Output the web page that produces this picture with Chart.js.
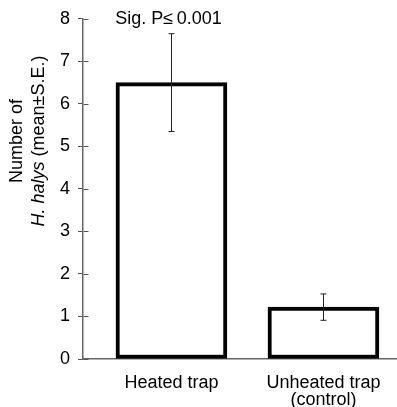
<!DOCTYPE html>
<html>
<head>
<meta charset="utf-8">
<script src="https://cdn.jsdelivr.net/npm/chart.js@4.4.1/dist/chart.umd.min.js"></script>
<style>
  html, body { margin: 0; padding: 0; background: #fff; }
  #wrap { width: 397px; height: 407px; }
</style>
</head>
<body>
<div id="wrap"><canvas id="chart"></canvas></div>
<script>
// data
const categories = [['Heated trap'], ['Unheated trap', '(control)']];
const means = [6.5, 1.22];
const seValues = [1.15, 0.31];
const yTicks = [0, 1, 2, 3, 4, 5, 6, 7, 8];
const sigLabel = 'Sig. P\u2264\u20090.001';

const FONT = 'Arial, "Liberation Sans", sans-serif';

// error bars + significance label + y title
const extras = {
  id: 'extras',
  afterDatasetsDraw(chart) {
    const { ctx, scales: { x, y } } = chart;
    ctx.save();
    ctx.strokeStyle = '#222';
    ctx.lineWidth = 1;
    means.forEach((m, i) => {
      const px = Math.round(x.getPixelForValue(i)) + 0.5;
      const top = y.getPixelForValue(m + seValues[i]);
      const bot = y.getPixelForValue(m - seValues[i]);
      ctx.beginPath();
      ctx.moveTo(px, top); ctx.lineTo(px, bot);
      ctx.moveTo(px - 3, top); ctx.lineTo(px + 3, top);
      ctx.moveTo(px - 3, bot); ctx.lineTo(px + 3, bot);
      ctx.stroke();
    });

    // inward tick marks on the y axis
    ctx.strokeStyle = '#555';
    const ax = Math.round(x.left) + 0.5;
    yTicks.forEach(v => {
      const py = Math.round(y.getPixelForValue(v)) + 0.5;
      ctx.beginPath();
      ctx.moveTo(ax, py); ctx.lineTo(ax + 5, py);
      ctx.stroke();
    });

    // significance text over the first bar
    ctx.fillStyle = '#000';
    ctx.font = '18px ' + FONT;
    ctx.textAlign = 'center';
    ctx.textBaseline = 'middle';
    ctx.fillText(sigLabel, x.getPixelForValue(0) - 3, 19);

    // y axis title, two lines, part italic
    ctx.translate(0, 141);
    ctx.rotate(-Math.PI / 2);
    ctx.fillText('Number of', 0, 17);
    const it = 'H. halys', rest = ' (mean\u00b1S.E.)';
    ctx.font = 'italic 18px ' + FONT;
    const w1 = ctx.measureText(it).width;
    ctx.font = '18px ' + FONT;
    const w2 = ctx.measureText(rest).width;
    ctx.textAlign = 'left';
    const start = -(w1 + w2) / 2;
    ctx.font = 'italic 18px ' + FONT;
    ctx.fillText(it, start, 39);
    ctx.font = '18px ' + FONT;
    ctx.fillText(rest, start + w1, 39);
    ctx.restore();
  }
};

new Chart(document.getElementById('chart'), {
  type: 'bar',
  data: {
    datasets: [{
      data: means.map((m, i) => ({ x: i, y: m })),
      backgroundColor: '#fff',
      borderColor: '#000',
      borderWidth: 4,
      borderSkipped: false,
      barThickness: 111
    }]
  },
  options: {
    responsive: true,
    maintainAspectRatio: false,
    animation: false,
    layout: { padding: { left: 0, right: 0, top: 15, bottom: 0 } },
    plugins: { legend: { display: false }, tooltip: { enabled: false } },
    scales: {
      x: {
        type: 'linear',
        offset: false,
        min: -0.582,
        max: 1.484,
        afterBuildTicks: (s) => { s.ticks = categories.map((c, i) => ({ value: i })); },
        afterFit: (s) => { s.height = 48; },
        grid: { display: false },
        border: { display: true, color: '#666', width: 1.5 },
        ticks: {
          color: '#000',
          font: { family: FONT, size: 18, lineHeight: 0.95 },
          padding: 7,
          maxRotation: 0,
          callback: (v) => categories[v]
        }
      },
      y: {
        min: 0,
        max: 8,
        afterBuildTicks: (s) => { s.ticks = yTicks.map(v => ({ value: v })); },
        afterFit: (s) => { s.width = 83; },
        grid: { drawOnChartArea: false, tickLength: 5, color: '#555' },
        border: { display: true, color: '#666', width: 1.5 },
        ticks: {
          color: '#000',
          font: { family: FONT, size: 18 },
          padding: 8
        }
      }
    }
  },
  plugins: [extras]
});
</script>
</body>
</html>
